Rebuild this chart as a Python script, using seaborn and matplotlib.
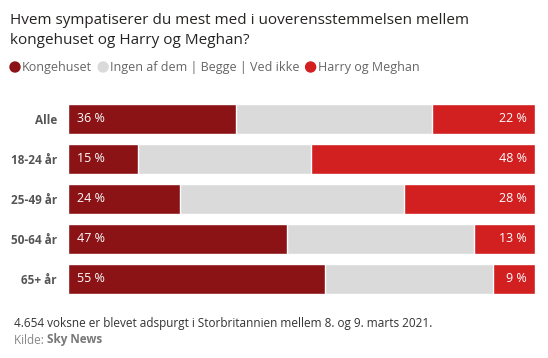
import matplotlib
matplotlib.use("Agg")
import matplotlib.pyplot as plt
import seaborn as sns
import pandas as pd

# Data
grupper = ["Alle", "18-24 år", "25-49 år", "50-64 år", "65+ år"]
kongehuset = [36, 15, 24, 47, 55]
harry_meghan = [22, 48, 28, 13, 9]
ingen = [100 - k - h for k, h in zip(kongehuset, harry_meghan)]

serier = ["Kongehuset", "Ingen af dem | Begge | Ved ikke", "Harry og Meghan"]
farver = ["#8B1316", "#DADADA", "#D21F20"]

df = pd.DataFrame({"gruppe": grupper, "k": kongehuset, "i": ingen, "h": harry_meghan})
df["ki"] = df["k"] + df["i"]
df["total"] = df["ki"] + df["h"]

sns.set_style("white")
plt.rcParams["font.family"] = ["Open Sans", "DejaVu Sans"]

fig = plt.figure(figsize=(5.48, 3.58), dpi=100)
ax = fig.add_axes([68 / 548, 1 - 299 / 358, (535 - 68) / 548, 200 / 358])

# stablede søjler, tegnet bagfra
for kol, farve in zip(["total", "ki", "k"], farver[::-1]):
    sns.barplot(data=df, x=kol, y="gruppe", color=farve, width=0.75, saturation=1,
                edgecolor="white", linewidth=1, ax=ax)

ax.set_xlim(0, 100)
ax.set_ylim(4.5, -0.5)
ax.set_xlabel("")
ax.set_ylabel("")
ax.set_xticks([])
ax.tick_params(axis="y", length=0, pad=8)
for lbl in ax.get_yticklabels():
    lbl.set_fontweight("bold")
    lbl.set_color("#555555")
    lbl.set_fontsize(8.5)
sns.despine(ax=ax, left=True, bottom=True)

for i, (k, h) in enumerate(zip(kongehuset, harry_meghan)):
    ax.text(2, i, f"{k} %", color="white", va="center", ha="left", fontsize=9)
    ax.text(98.3, i, f"{h} %", color="white", va="center", ha="right", fontsize=9)

# titel
fig.text(10 / 548, 1 - 20 / 358, "Hvem sympatiserer du mest med i uoverensstemmelsen mellem",
         fontsize=11, color="#252423", va="center")
fig.text(10 / 548, 1 - 41 / 358, "kongehuset og Harry og Meghan?",
         fontsize=11, color="#252423", va="center")

# forklaring
x = 10
for navn, farve in zip(serier, farver):
    fig.patches.append(plt.Circle((x + 5, 358 - 67), 5, color=farve,
                                  transform=None, figure=fig))
    t = fig.text((x + 12) / 548, 1 - 67 / 358, navn, fontsize=9, color="#666666",
                 va="center")
    fig.canvas.draw()
    bb = t.get_window_extent()
    x = bb.x1 + 6

# fodnote
fig.text(14 / 548, 1 - 324 / 358, "4.654 voksne er blevet adspurgt i Storbritannien mellem 8. og 9. marts 2021.",
         fontsize=8.5, color="#333333", va="center")
k1 = fig.text(14 / 548, 1 - 340 / 358, "Kilde: ", fontsize=8.5, color="#888888", va="center")
fig.canvas.draw()
bb = k1.get_window_extent()
fig.text(bb.x1 / 548, 1 - 340 / 358, "Sky News", fontsize=8.5, color="#777777",
         fontweight="bold", va="center")

fig.savefig("out.png", dpi=100)
